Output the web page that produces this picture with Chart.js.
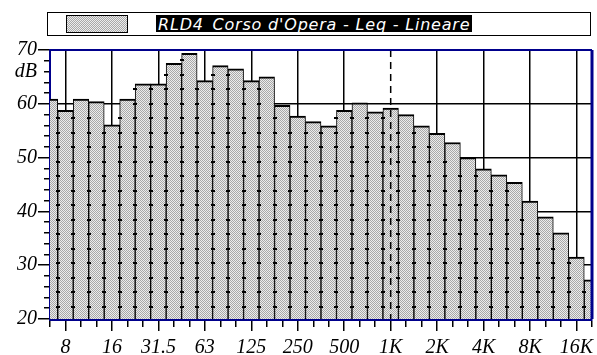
<!DOCTYPE html>
<html>
<head>
<meta charset="utf-8">
<script src="https://cdn.jsdelivr.net/npm/chart.js@4/dist/chart.umd.min.js"></script>
<style>
  html, body { margin: 0; padding: 0; background: #fff; }
  #wrap { position: relative; width: 597px; height: 355px; }
  #legend {
    position: absolute; left: 47px; top: 12px; width: 542px; height: 22px;
    border: 1px solid #000; background: #fff; box-sizing: content-box;
  }
  #legend .swatch {
    position: absolute; left: 18px; top: 2px; width: 60px; height: 16px;
    border: 1px solid #000;
  }
  #legend .name {
    position: absolute; left: 108px; top: 2px; height: 17px; line-height: 16px;
    padding: 0 2px; background: #000; color: #fff; letter-spacing: 0.8px;
    font: italic 16px "DejaVu Sans", sans-serif; white-space: nowrap;
  }
  canvas { position: absolute; left: 0; top: 0; }
</style>
</head>
<body>
<div id="wrap">
  <canvas id="chart" width="597" height="355"></canvas>
  <div id="legend"><span class="swatch"></span><span class="name"></span></div>
</div>
<script>
// One-third-octave band centres (Hz) shown on the frequency axis
const bands = ['6.3','8','10','12.5','16','20','25','31.5','40','50','63','80','100','125',
  '160','200','250','315','400','500','630','800','1K','1.25K','1.6K','2K','2.5K','3.15K',
  '4K','5K','6.3K','8K','10K','12.5K','16K','20K'];

// Linear Leq per band, dB
const leqDb = [60.9, 58.8, 60.9, 60.4, 56.1, 60.9, 63.7, 63.7, 67.5, 69.4, 64.3, 67.1, 66.5, 64.3,
  65.0, 59.7, 57.7, 56.7, 55.9, 58.8, 60.2, 58.5, 59.2, 58.0, 55.9, 54.5, 52.8, 50.0,
  47.9, 46.8, 45.4, 41.9, 39.0, 36.0, 31.5, 27.3];

// Octave bands that carry a label on the frequency axis
const octaveLabels = ['8','16','31.5','63','125','250','500','1K','2K','4K','8K','16K'];

// Level axis labels
const yLabelValues = [20, 30, 40, 50, 60, 66, 70];
const yLabelTexts  = ['20', '30', '40', '50', '60', 'dB', '70'];

const seriesName = "RLD4_Corso d'Opera - Leq - Lineare";
const markerBand = '1K';

// Stippled grey fill used by the bars and the legend swatch
function makeStipple() {
  const c = document.createElement('canvas');
  c.width = 2; c.height = 2;
  const g = c.getContext('2d');
  g.fillStyle = '#ececec'; g.fillRect(0, 0, 2, 2);
  g.fillStyle = '#a8a8a8'; g.fillRect(0, 0, 1, 1); g.fillRect(1, 1, 1, 1);
  return c;
}
const stippleCanvas = makeStipple();
const ctx = document.getElementById('chart').getContext('2d');
const stipple = ctx.createPattern(stippleCanvas, 'repeat');

document.querySelector('#legend .swatch').style.background =
  'url(' + stippleCanvas.toDataURL() + ') repeat';
document.querySelector('#legend .name').textContent = seriesName;

const FRAME = '#00008c';

// Frame on the top and right of the plot, the dashed 1 kHz marker
// and the small dither marks along each bar edge
const framePlugin = {
  id: 'frame',
  afterDatasetsDraw(chart) {
    const { ctx, chartArea: a, scales } = chart;
    const meta = chart.getDatasetMeta(0);
    ctx.save();
    ctx.beginPath();
    ctx.rect(a.left, a.top, a.right - a.left, a.bottom - a.top);
    ctx.clip();
    ctx.fillStyle = '#000';
    meta.data.forEach(bar => {
      const p = bar.getProps(['x', 'y', 'base', 'width'], true);
      const edge = Math.round(p.x - p.width / 2);
      for (let y = p.base - 5; y > p.y + 4; y -= 14.5) {
        ctx.fillRect(edge - 2, Math.round(y), 4, 2);
      }
    });
    const x = scales.x.getPixelForValue(bands.indexOf(markerBand));
    ctx.strokeStyle = '#000';
    ctx.lineWidth = 1.5;
    ctx.setLineDash([7, 5]);
    ctx.beginPath();
    ctx.moveTo(x, a.top);
    ctx.lineTo(x, a.bottom);
    ctx.stroke();
    ctx.restore();
  },
  afterDraw(chart) {
    const { ctx, chartArea: a } = chart;
    ctx.save();
    ctx.strokeStyle = FRAME;
    ctx.lineWidth = 2;
    ctx.beginPath();
    ctx.moveTo(a.left, a.top);
    ctx.lineTo(a.right, a.top);
    ctx.stroke();
    ctx.lineWidth = 3;
    ctx.beginPath();
    ctx.moveTo(a.right, a.top);
    ctx.lineTo(a.right, a.bottom);
    ctx.stroke();
    ctx.restore();
  }
};

const tickFont = { family: 'Liberation Serif', style: 'italic', size: 20 };

new Chart(ctx, {
  type: 'bar',
  data: {
    labels: bands,
    datasets: [{
      label: seriesName,
      data: leqDb,
      backgroundColor: stipple,
      borderColor: '#000',
      borderWidth: { top: 2, left: 1, right: 1, bottom: 0 },
      borderSkipped: false,
      categoryPercentage: 1,
      barPercentage: 1,
      clip: 0
    }]
  },
  options: {
    responsive: false,
    animation: false,
    devicePixelRatio: 1,
    layout: { padding: { top: 50, right: 4, left: 0, bottom: 0 } },
    plugins: { legend: { display: false }, tooltip: { enabled: false } },
    scales: {
      x: {
        type: 'category',
        offset: false,
        grid: {
          offset: false,
          color: c => (c.tick && octaveLabels.includes(bands[c.index]) && bands[c.index] !== markerBand) ? '#000' : 'rgba(0,0,0,0)',
          lineWidth: 1.5,
          tickColor: '#000',
          tickWidth: 1.5,
          tickLength: 12,
          tickBorderDash: c => (c.tick && octaveLabels.includes(bands[c.index])) ? [] : [6, 100]
        },
        border: { display: true, color: FRAME, width: 3 },
        ticks: {
          autoSkip: false,
          maxRotation: 0,
          padding: 5,
          color: '#000',
          font: tickFont,
          callback: (v, i) => octaveLabels.includes(bands[i]) ? bands[i] : ''
        },
        afterFit: s => { s.height = 36; }
      },
      y: {
        min: 20,
        max: 70,
        grid: {
          color: c => (c.tick && c.tick.value % 10 === 0 && c.tick.value > 20 && c.tick.value < 70) ? '#000' : 'rgba(0,0,0,0)',
          lineWidth: 1.5,
          tickColor: '#000',
          tickWidth: 1.5,
          tickLength: 12,
          tickBorderDash: c => (c.tick && c.tick.value % 10 === 0) ? [] : [0, 6, 6, 100]
        },
        border: { display: true, color: FRAME, width: 2 },
        ticks: {
          stepSize: 2,
          autoSkip: false,
          padding: 1,
          color: '#000',
          font: tickFont,
          callback: v => {
            const k = yLabelValues.indexOf(v);
            return k >= 0 ? yLabelTexts[k] : '';
          }
        },
        afterFit: s => { s.width = 50; }
      }
    }
  },
  plugins: [framePlugin]
});
</script>
</body>
</html>
